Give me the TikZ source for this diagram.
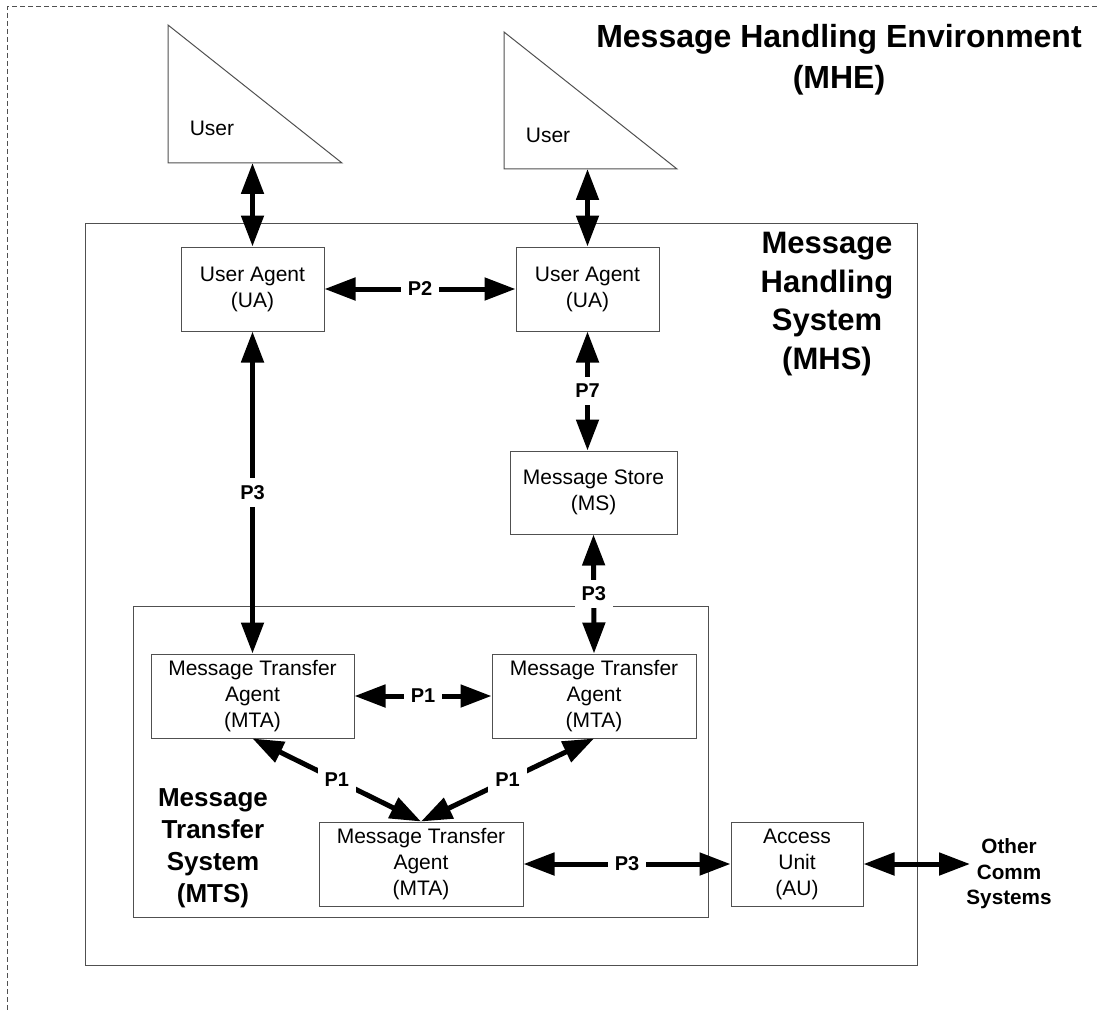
\documentclass[tikz,border=0pt]{standalone}
\usepackage{fontspec}
\setmainfont{Liberation Sans}
\usetikzlibrary{arrows.meta}
\definecolor{edge}{RGB}{80,80,80}
\tikzset{
  box/.style={draw=edge, line width=1pt, minimum height=84pt, align=center,
    font=\fontsize{21}{26}\selectfont, inner sep=0pt},
  frame/.style={draw=edge, line width=1pt, inner sep=0pt},
  link/.style={line width=5pt, {Triangle[length=31pt,width=22pt]}-{Triangle[length=31pt,width=22pt]}},
  lbl/.style={fill=white, inner sep=7pt, font=\fontsize{20}{24}\selectfont\bfseries},
  usertxt/.style={inner sep=0pt, font=\fontsize{21}{25}\selectfont},
  bigtitle/.style={align=center, inner sep=0pt, font=\fontsize{32}{41}\selectfont\bfseries},
  midtitle/.style={align=center, inner sep=0pt, font=\fontsize{31}{38.5}\selectfont\bfseries},
  mtstitle/.style={align=center, inner sep=0pt, font=\fontsize{26}{32}\selectfont\bfseries},
  othertitle/.style={align=center, inner sep=0pt, font=\fontsize{20.7}{25.5}\selectfont\bfseries}
}
\begin{document}
\begin{tikzpicture}[x=1pt,y=-1pt]
\useasboundingbox (0,0) rectangle (1097,1011);
% environment border (dashed)
\draw[edge, line width=1pt, dash pattern=on 5pt off 3pt] (1097,7) -- (7,7) -- (7,1011);

% users
\draw[edge, line width=1pt] (168,25) -- (168,163) -- (342,163) -- cycle;
\coordinate (u1b) at (252.5,163);
\node[usertxt] (user1) at (212,128) {User};
\draw[edge, line width=1pt] (504,32) -- (504,169) -- (677,169) -- cycle;
\coordinate (u2b) at (587.5,169);
\node[usertxt] (user2) at (548,135) {User};

% system frames
\node[frame, minimum width=832pt, minimum height=742pt] (mhs) at (501,594) {};
\node[frame, minimum width=575pt, minimum height=311pt] (mts) at (420.5,761.5) {};

% titles
\node[bigtitle] (mhe) at (839,60) {Message Handling Environment\\(MHE)};
\node[midtitle] (mhst) at (827,304) {Message\\Handling\\System\\(MHS)};
\node[mtstitle] (mtst) at (213,848) {Message\\Transfer\\System\\(MTS)};
\node[othertitle] (other) at (1009,874) {Other\\Comm\\Systems};
\coordinate (otherin) at (970,864);

% boxes
\node[box, minimum width=143pt] (ua1) at (252.5,289) {User Agent\\(UA)};
\node[box, minimum width=143pt] (ua2) at (587.5,289) {User Agent\\(UA)};
\node[box, minimum width=167pt, minimum height=83pt] (ms) at (593.5,492.5) {Message Store\\(MS)};
\node[box, minimum width=203pt] (mta1) at (252.5,696) {Message Transfer\\Agent\\(MTA)};
\node[box, minimum width=204pt] (mta2) at (594,696) {Message Transfer\\Agent\\(MTA)};
\node[box, minimum width=204pt] (mta3) at (421,864) {Message Transfer\\Agent\\(MTA)};
\node[box, minimum width=132pt] (au) at (797,864) {Access\\Unit\\(AU)};

% connectors
\draw[link] (u1b) -- (ua1.north);
\draw[link] (u2b) -- (ua2.north);
\draw[link] (ua1.east) -- node[lbl] (p2) {P2} (ua2.west);
\draw[link] (ua1.south) -- node[lbl] (p3a) {P3} (mta1.north);
\draw[link] (ua2.south) -- node[lbl] (p7) {P7} (ua2.south |- ms.north);
\draw[link] (ms.south) -- node[lbl] (p3b) {P3} (mta2.north);
\draw[link] (mta1.east) -- node[lbl] (p1a) {P1} (mta2.west);
\draw[link] (mta1.south) -- node[lbl] (p1b) {P1} (mta3.north);
\draw[link] (mta2.south) -- node[lbl] (p1c) {P1} (mta3.north);
\draw[link] (mta3.east) -- node[lbl] (p3c) {P3} (au.west);
\draw[link] (au.east) -- (otherin);
\end{tikzpicture}
\end{document}
